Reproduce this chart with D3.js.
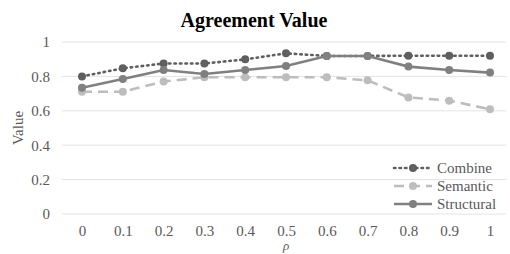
<!DOCTYPE html>
<html>
<head>
<meta charset="utf-8">
<script src="https://cdn.jsdelivr.net/npm/d3@7"></script>
<style>
  body { margin: 0; background: #fff; }
  svg text { font-family: "Liberation Serif", "Times New Roman", serif; }
</style>
</head>
<body>
<svg id="canvas"></svg>
<script>
const rhoLabels = ['0', '0.1', '0.2', '0.3', '0.4', '0.5', '0.6', '0.7', '0.8', '0.9', '1']
const combine = [0.80, 0.847, 0.875, 0.875, 0.899, 0.934, 0.919, 0.919, 0.92, 0.92, 0.92]
const semantic = [0.711, 0.711, 0.77, 0.795, 0.795, 0.795, 0.795, 0.777, 0.678, 0.659, 0.609]
const structural = [0.734, 0.785, 0.837, 0.814, 0.837, 0.86, 0.919, 0.919, 0.857, 0.837, 0.822]
const yTicks = [0, 0.2, 0.4, 0.6, 0.8, 1]
const seriesNames = ['Combine', 'Semantic', 'Structural']

const width = 510
const height = 254

const svg = d3.select('#canvas').attr('width', width).attr('height', height)

const xScale = d3.scalePoint().domain(rhoLabels).range([82, 490])
const yScale = d3.scaleLinear().domain([0, 1]).range([214, 42])

// gridlines
svg.append('g')
    .selectAll('line')
    .data(yTicks)
    .enter()
    .append('line')
    .attr('x1', 62)
    .attr('x2', 506)
    .attr('y1', d => yScale(d))
    .attr('y2', d => yScale(d))
    .attr('stroke', '#e3e3e3')
    .attr('stroke-width', 1)

let yAxis = d3.axisLeft(yScale).tickValues(yTicks).tickSize(0).tickPadding(0)
    .tickFormat(d => d3.format('')(d))
let yg = svg.append('g').attr('transform', 'translate(50,0)').call(yAxis)
yg.attr('font-family', null)
yg.select('.domain').remove()
yg.selectAll('text').attr('font-size', 15).attr('fill', '#595959')

let xAxis = d3.axisBottom(xScale).tickSize(0).tickPadding(0)
let xg = svg.append('g').attr('transform', 'translate(0,225)').call(xAxis)
xg.attr('font-family', null)
xg.select('.domain').remove()
xg.selectAll('text').attr('font-size', 15).attr('fill', '#595959')

const series = [
    { name: 'Combine', values: combine, color: '#5f5f5f', dash: '1.5,4', cap: 'round' },
    { name: 'Semantic', values: semantic, color: '#bdbdbd', dash: '10,6', cap: 'butt' },
    { name: 'Structural', values: structural, color: '#808080', dash: null, cap: 'butt' }
]

const line = d3.line()
    .x((d, i) => xScale(rhoLabels[i]))
    .y(d => yScale(d))

series.forEach(s => {
    svg.append('path')
        .datum(s.values)
        .attr('d', line)
        .attr('fill', 'none')
        .attr('stroke', s.color)
        .attr('stroke-width', 2.6)
        .attr('stroke-linecap', s.cap)
        .attr('stroke-dasharray', s.dash)
    svg.append('g')
        .selectAll('circle')
        .data(s.values)
        .enter()
        .append('circle')
        .attr('cx', (d, i) => xScale(rhoLabels[i]))
        .attr('cy', d => yScale(d))
        .attr('r', 4)
        .attr('fill', s.color)
})

// legend
series.forEach((s, i) => {
    let y = 168 + i * 18
    svg.append('line')
        .attr('x1', 394).attr('x2', 432)
        .attr('y1', y).attr('y2', y)
        .attr('stroke', s.color)
        .attr('stroke-width', 2.6)
        .attr('stroke-linecap', s.cap)
        .attr('stroke-dasharray', s.dash)
    svg.append('circle')
        .attr('cx', 413).attr('cy', y).attr('r', 4)
        .attr('fill', s.color)
    svg.append('text')
        .attr('x', 437).attr('y', y)
        .attr('dy', '0.35em')
        .attr('font-size', 15)
        .attr('fill', '#595959')
        .text(s.name)
})

svg.append('text')
    .attr('x', 254).attr('y', 27)
    .attr('text-anchor', 'middle')
    .attr('font-size', 20)
    .attr('font-weight', 'bold')
    .attr('fill', '#000')
    .text('Agreement Value')

svg.append('text')
    .attr('transform', 'translate(23,128) rotate(-90)')
    .attr('text-anchor', 'middle')
    .attr('font-size', 15)
    .attr('fill', '#595959')
    .text('Value')

svg.append('text')
    .attr('x', 286).attr('y', 250)
    .attr('text-anchor', 'middle')
    .attr('font-size', 13)
    .attr('font-style', 'italic')
    .attr('fill', '#595959')
    .text('ρ')
</script>
</body>
</html>
